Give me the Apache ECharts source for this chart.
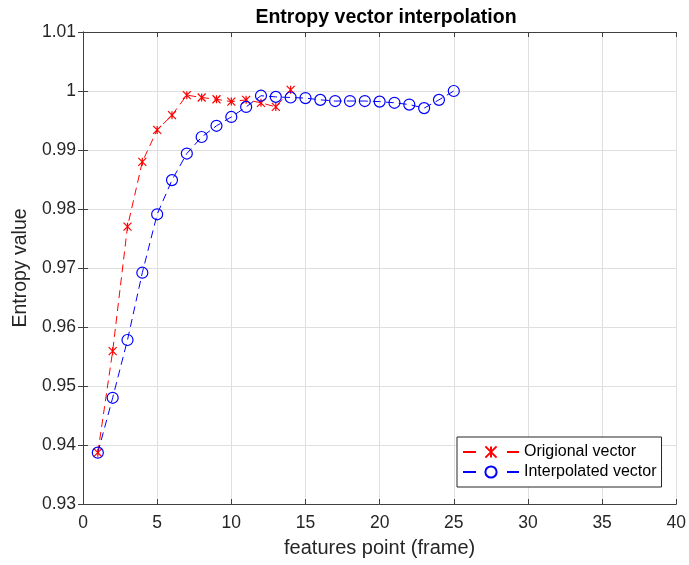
<!DOCTYPE html>
<html><head><meta charset="utf-8">
<script src="https://cdn.jsdelivr.net/npm/echarts@6/dist/echarts.min.js"></script>
<style>html,body{margin:0;padding:0;background:#fff}#c{width:689px;height:565px}</style>
</head><body><div id="c"></div>
<script>
const origX = [1,2,3,4,5,6,7,8,9,10,11,12,13,14];
const origY = [0.9387,0.9559,0.9770,0.9880,0.9934,0.9959,0.9993,0.9989,0.9986,0.9982,0.9985,0.9980,0.9973,1.0002];
const interpX = [1,2,3,4,5,6,7,8,9,10,11,12,13,14,15,16,17,18,19,20,21,22,23,24,25];
const interpY = [0.9387,0.9480,0.9578,0.9692,0.9791,0.9849,0.9894,0.9922,0.9941,0.9956,0.9973,0.9992,0.9990,0.9989,0.9988,0.9985,0.9983,0.9983,0.9983,0.9982,0.9980,0.9977,0.9971,0.9985,1.0000];
const seriesNames = ['Origional vector','Interpolated vector'];
const titleText = 'Entropy vector interpolation';
const xName = 'features point (frame)';
const yName = 'Entropy value';

const font = 'Liberation Sans, Arial, sans-serif';
const axisCol = '#262626';
const lineCol = '#404040';
const chart = echarts.init(document.getElementById('c'));
const pair = (xs, ys) => xs.map((x, i) => [x, ys[i]]);
const tickStyle = {inside: true, length: 5, lineStyle: {color: lineCol}};
chart.setOption({
  animation: false,
  title: {text: titleText, left: 381, top: 3, textAlign: 'center',
    textStyle: {fontFamily: font, fontSize: 19.5, fontWeight: 'bold', color: '#000'}},
  grid: {left: 83, right: 10, top: 32, bottom: 61},
  legend: {
    orient: 'vertical', left: 457, top: 437, data: seriesNames,
    backgroundColor: '#fff', borderColor: axisCol, borderWidth: 1, padding: [7, 5, 7, 5],
    itemWidth: 56, itemHeight: 14, itemGap: 4,
    lineStyle: {type: [13, 31]},
    textStyle: {fontFamily: font, fontSize: 16, color: '#000'}
  },
  xAxis: [{
    type: 'value', min: 0, max: 40, interval: 5,
    name: xName, nameLocation: 'middle', nameGap: 34,
    nameTextStyle: {fontFamily: font, fontSize: 20, color: axisCol},
    axisLine: {lineStyle: {color: lineCol}},
    axisTick: tickStyle,
    axisLabel: {fontFamily: font, fontSize: 17.5, color: axisCol, margin: 10},
    splitLine: {lineStyle: {color: '#dfdfdf'}}
  }, {
    type: 'value', min: 0, max: 40, interval: 5, position: 'top',
    axisLine: {show: true, lineStyle: {color: lineCol}},
    axisTick: tickStyle, axisLabel: {show: false}, splitLine: {show: false}
  }],
  yAxis: [{
    type: 'value', min: 0.93, max: 1.01, interval: 0.01,
    name: yName, nameLocation: 'middle', nameGap: 49,
    nameTextStyle: {fontFamily: font, fontSize: 19.5, color: axisCol},
    axisLine: {lineStyle: {color: lineCol}},
    axisTick: tickStyle,
    axisLabel: {fontFamily: font, fontSize: 17.5, color: axisCol, margin: 7,
      formatter: v => String(parseFloat(v.toFixed(2)))},
    splitLine: {lineStyle: {color: '#dfdfdf'}}
  }, {
    type: 'value', min: 0.93, max: 1.01, interval: 0.01, position: 'right',
    axisLine: {show: true, lineStyle: {color: lineCol}},
    axisTick: tickStyle, axisLabel: {show: false}, splitLine: {show: false}
  }],
  series: [
    {name: seriesNames[0], type: 'line', data: pair(origX, origY),
      symbol: 'path://M0,0L10,10M10,0L0,10M5,0L5,10', symbolSize: 8,
      lineStyle: {color: '#ff0000', width: 1, type: [8, 5]},
      itemStyle: {color: '#ff0000', borderColor: '#ff0000', borderWidth: 1.2}},
    {name: seriesNames[1], type: 'line', data: pair(interpX, interpY),
      symbol: 'circle', symbolSize: 11,
      lineStyle: {color: '#0000ff', width: 1, type: [8, 5]},
      itemStyle: {color: 'rgba(0,0,0,0)', borderColor: '#0000ff', borderWidth: 1.2}}
  ]
});
</script></body></html>
